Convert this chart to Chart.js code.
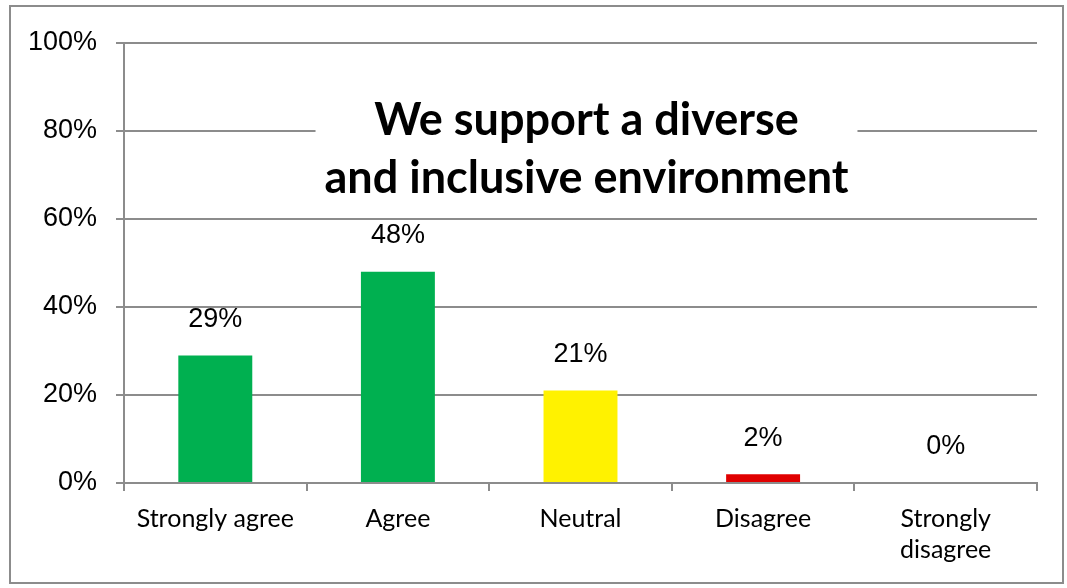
<!DOCTYPE html>
<html lang="en">
<head>
<meta charset="UTF-8">
<title>We support a diverse and inclusive environment</title>
<script src="https://cdn.jsdelivr.net/npm/chart.js"></script>
<style>
  html, body { margin: 0; padding: 0; background: #fff; }
  #wrap { width: 1067px; height: 588px; }
</style>
</head>
<body>
<div id="wrap"><canvas id="surveyChart" width="1067" height="588"></canvas></div>
<script>
// survey answers, share of respondents in percent
const categories = ['Strongly agree', 'Agree', 'Neutral', 'Disagree', ['Strongly', 'disagree']];
const shares = [29, 48, 21, 2, 0];
const barColors = ['#00B050', '#00B050', '#FFF200', '#E00000', '#E00000'];
const titleLines = ['We support a diverse', 'and inclusive environment'];

const GRAY = '#8c8c8c';

// white background plus the thin frame around the whole chart
const framePlugin = {
    id: 'frame',
    beforeDraw(chart) {
        const ctx = chart.ctx;
        ctx.save();
        ctx.fillStyle = '#fff';
        ctx.fillRect(0, 0, chart.width, chart.height);
        ctx.strokeStyle = GRAY;
        ctx.lineWidth = 2;
        ctx.strokeRect(10, 6, chart.width - 14, chart.height - 11);
        ctx.restore();
    }
};

// percentage printed above each bar
const valueLabels = {
    id: 'valueLabels',
    afterDatasetsDraw(chart) {
        const ctx = chart.ctx;
        const meta = chart.getDatasetMeta(0);
        ctx.save();
        ctx.font = '27px "Liberation Sans", Arial, sans-serif';
        ctx.fillStyle = '#000';
        ctx.textAlign = 'center';
        ctx.textBaseline = 'middle';
        meta.data.forEach((bar, i) => {
            ctx.fillText(shares[i] + '%', bar.x, bar.y - 36);
        });
        ctx.restore();
    }
};

// title sits in a white box on top of the gridlines
const titleBox = {
    id: 'titleBox',
    afterDraw(chart) {
        const ctx = chart.ctx;
        const area = chart.chartArea;
        const cx = (area.left + area.right) / 2 + 6;
        ctx.save();
        ctx.font = 'bold 45px Lato, "Open Sans", sans-serif';
        const w = Math.max(...titleLines.map(t => ctx.measureText(t).width)) + 18;
        ctx.fillStyle = '#fff';
        ctx.fillRect(cx - w / 2, 86, w, 124);
        ctx.fillStyle = '#000';
        ctx.textAlign = 'center';
        ctx.textBaseline = 'middle';
        titleLines.forEach((t, i) => ctx.fillText(t, cx, 120 + i * 58));
        ctx.restore();
    }
};

new Chart(document.getElementById('surveyChart'), {
    type: 'bar',
    data: {
        labels: categories,
        datasets: [{
            data: shares,
            backgroundColor: barColors,
            borderWidth: 0,
            categoryPercentage: 1,
            barPercentage: 0.405
        }]
    },
    options: {
        responsive: false,
        devicePixelRatio: 1,
        animation: false,
        layout: { padding: { left: 10, right: 30, top: 43, bottom: 20 } },
        plugins: {
            legend: { display: false },
            tooltip: { enabled: false }
        },
        scales: {
            y: {
                min: 0,
                max: 100,
                afterFit(scale) { scale.width = 114; },
                ticks: {
                    stepSize: 20,
                    padding: 19,
                    color: '#000',
                    font: { family: '"Liberation Sans", Arial, sans-serif', size: 27 },
                    callback: v => v + '%'
                },
                grid: { color: GRAY, lineWidth: 2, tickLength: 8 },
                border: { color: GRAY, width: 2 }
            },
            x: {
                afterFit(scale) { scale.height = 85; },
                ticks: {
                    padding: 12,
                    maxRotation: 0,
                    autoSkip: false,
                    color: '#000',
                    font: { family: 'Lato, "Open Sans", sans-serif', size: 25, lineHeight: 1.24 }
                },
                grid: { drawOnChartArea: false, color: GRAY, lineWidth: 2, tickLength: 8 },
                border: { color: GRAY, width: 2 }
            }
        }
    },
    plugins: [framePlugin, valueLabels, titleBox]
});
</script>
</body>
</html>
